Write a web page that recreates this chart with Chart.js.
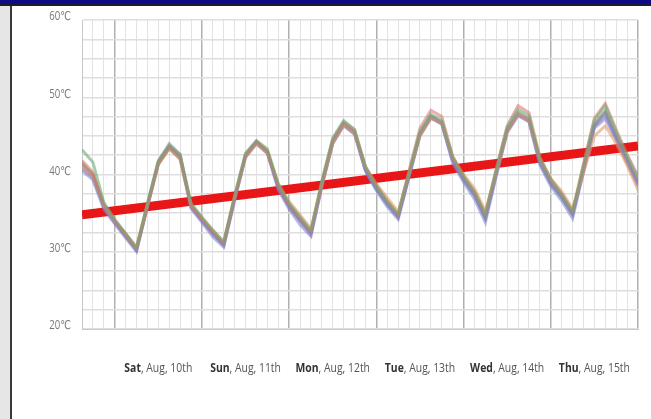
<!DOCTYPE html>
<html><head><meta charset="utf-8">
<script src="https://cdn.jsdelivr.net/npm/chart.js@4"></script>
<style>
html,body{margin:0;padding:0;background:#fff;overflow:hidden}
#wrap{position:relative;width:651px;height:419px;background:#fff}
#c{position:absolute;left:0;top:0}
#hdr{position:absolute;left:0;top:0;width:651px;height:4px;background:#0c0c86}
#hdrline{position:absolute;left:0;top:4px;width:651px;height:2px;background:#1c1c2c}
#lstrip{position:absolute;left:0;top:6px;width:10px;height:413px;background:#e6e6e6}
#lline{position:absolute;left:10px;top:6px;width:2px;height:413px;background:#3a3a3a}
</style></head>
<body>
<div id="wrap">
<canvas id="c" width="651" height="419"></canvas>
<div id="hdr"></div><div id="hdrline"></div><div id="lstrip"></div><div id="lline"></div>
</div>
<script>
// hours relative to Sat, Aug 10 00:00 (3-hourly)
const hours = [-9,-6,-3,0,3,6,9,12,15,18,21,24,27,30,33,36,39,42,45,48,51,54,57,60,63,66,69,72,75,78,81,84,87,90,93,96,99,102,105,108,111,114,117,120,123,126,129,132,135,138,141,144];
const dayNames = ['Sat','Sun','Mon','Tue','Wed','Thu'];
const dayDates = [', Aug, 10th',', Aug, 11th',', Aug, 12th',', Aug, 13th',', Aug, 14th',', Aug, 15th'];
const dayCenters = [12,36,60,84,108,132];
const yTickLabels = [20,30,40,50,60];

const seriesGreen = [43.2,41.6,36.4,34.2,32.4,30.6,36.3,41.8,43.8,42.6,36.3,34.5,32.8,31.3,37.3,42.8,44.4,43.3,38.8,36.3,34.5,32.8,39.2,44.7,47,45.8,41,38.5,36.5,34.9,40.3,45.6,47.8,47,42.2,39.7,37.7,34.8,40.6,46.1,48.4,47.6,42,39.3,37.4,35.2,41.2,47,48.9,45.5,42.4,39.6];
const seriesRed = [41.8,40.3,36.2,34.1,32.3,30.5,36.1,41.6,43.7,42.4,36.1,34.3,32.6,31.1,37.1,42.6,44.3,43.1,38.6,36.1,34.3,32.6,39,44.6,46.8,45.8,41,38.6,36.6,34.8,40.5,46,48.3,47.5,42.4,39.8,37.8,34.9,40.8,46.3,48.9,48,42.3,39.4,37.5,35.2,41.4,47.3,49.2,45.8,42.6,39.8];
const seriesOrange = [41,39.8,36,34,32.3,30.5,36,41.3,43.3,42,36,34.3,32.8,31.3,37,42.3,44,42.8,38.8,36.5,34.8,33,38.7,44,46.4,45.3,41,38.8,37,35.2,40.2,45,47.3,46.6,42.2,40,38.2,35.3,40.2,45.5,47.8,47,42,39.5,37.8,35.6,40.2,45,46.3,44,41.2,38];
const seriesPurple = [40.8,39.6,35.8,33.8,32,30.2,36,41.7,44,42.6,35.8,34,32.3,30.8,36.8,42.5,44.3,42.9,38.3,35.8,34,32.2,38.6,44.2,46.5,45.4,40.6,38.2,36.2,34.4,39.9,45.2,47.4,46.6,41.8,39.3,37.3,34.2,40,45.6,47.7,46.9,41.5,38.8,37,34.8,40.5,46,47.2,44.5,41.6,38.8];
const seriesBlue = [40.5,39.3,35.5,33.6,31.8,30,35.8,41.3,43.4,42,35.6,33.8,31.9,30.6,36.6,42.2,44,42.7,38,35.5,33.5,32,38.4,44,46.3,45.2,40.4,37.9,35.8,34.2,39.7,45,47.3,46.5,41.5,39,36.8,33.8,39.8,45.4,47.6,46.8,41.2,38.5,36.6,34.3,40.3,46.2,47.6,44.6,41.5,38.5];
const seriesGrayA = [41.5,40,36,34,32.2,30.3,36,41.5,43.6,42.3,36,34.2,32.5,31,37,42.5,44.2,43,38.5,36,34.2,32.5,38.8,44.3,46.6,45.5,40.8,38.3,36.3,34.6,40,45.3,47.6,46.8,42,39.5,37.5,34.5,40.3,45.8,48,47.2,41.8,39,37.2,35,40.8,46.5,48.2,45,42,39];
const seriesGrayB = [41.2,39.8,35.8,33.8,32,30.2,35.8,41.3,43.4,42.1,35.8,34,32.3,30.9,36.8,42.3,44,42.8,38.3,35.8,34,32.4,38.6,44.1,46.4,45.3,40.6,38.1,36.1,34.5,39.8,45.1,47.4,46.6,41.8,39.3,37.3,34.4,40.1,45.6,47.8,47,41.6,38.8,37,34.8,40.6,46.3,48,44.8,41.8,38.8];
const trendHours = [-9,144];
const trendValues = [34.8,43.7];

const FONT = "'Open Sans','DejaVu Sans',sans-serif";
const CONDENSE = 0.8;
function pts(vals, xs){ return vals.map((v,i)=>({x:xs[i], y:v})); }
function line(vals, color){
  return {data: pts(vals, hours), borderColor: color, borderWidth: 3, pointRadius: 0, tension: 0, fill: false};
}

const textPlugin = {
  id: 'condensedText',
  afterDraw(chart){
    const ctx = chart.ctx, xs = chart.scales.x, ys = chart.scales.y;
    ctx.save();
    ctx.textBaseline = 'middle';
    // day labels
    for (let i=0;i<dayNames.length;i++){
      const cx = xs.getPixelForValue(dayCenters[i]);
      ctx.font = 'bold 13px ' + FONT;
      const w1 = ctx.measureText(dayNames[i]).width;
      ctx.font = '13px ' + FONT;
      const w2 = ctx.measureText(dayDates[i]).width;
      ctx.save();
      ctx.translate(cx - (w1+w2)*CONDENSE/2, 368);
      ctx.scale(CONDENSE, 1);
      ctx.textAlign = 'left';
      ctx.fillStyle = '#333';
      ctx.font = 'bold 13px ' + FONT;
      ctx.fillText(dayNames[i], 0, 0);
      ctx.fillStyle = '#555';
      ctx.font = '13px ' + FONT;
      ctx.fillText(dayDates[i], w1, 0);
      ctx.restore();
    }
    // y labels
    ctx.font = '12px ' + FONT;
    ctx.fillStyle = '#777';
    ctx.textAlign = 'right';
    for (const v of yTickLabels){
      const y = ys.getPixelForValue(v) - 3;
      ctx.save();
      ctx.translate(71, y);
      ctx.scale(CONDENSE, 1);
      ctx.fillText(v + '℃', 0, 0);
      ctx.restore();
    }
    ctx.restore();
  }
};

new Chart(document.getElementById('c'), {
  type: 'line',
  data: {
    datasets: [
      line(seriesGreen, 'rgba(110,170,115,0.6)'),
      line(seriesRed, 'rgba(215,110,100,0.55)'),
      line(seriesOrange, 'rgba(220,150,90,0.55)'),
      line(seriesPurple, 'rgba(150,120,205,0.55)'),
      line(seriesBlue, 'rgba(115,135,205,0.55)'),
      line(seriesGrayA, 'rgba(125,125,125,0.6)'),
      line(seriesGrayB, 'rgba(145,145,145,0.6)'),
      {data: pts(trendValues, trendHours), borderColor: 'rgb(232,22,22)', borderWidth: 9, pointRadius: 0, tension: 0, fill: false}
    ]
  },
  options: {
    responsive: false,
    animation: false,
    devicePixelRatio: 1,
    layout: {padding: {left: 0, right: 13, top: 20, bottom: 0}},
    plugins: {legend: {display: false}, tooltip: {enabled: false}, title: {display: false}},
    scales: {
      x: {
        type: 'linear', min: -9, max: 144,
        ticks: {display: false, stepSize: 3},
        grid: {
          drawTicks: false,
          color: c => (c.tick && c.tick.value % 24 === 0) ? '#b0b0b0' : '#e2e2e2',
          lineWidth: c => (c.tick && c.tick.value % 24 === 0) ? 1.5 : 1
        },
        border: {display: true, color: '#c8c8c8'},
        afterFit: s => { s.height = 90; }
      },
      y: {
        min: 20, max: 60,
        ticks: {display: false, stepSize: 2.5},
        grid: {drawTicks: false, color: '#dedede', lineWidth: 1.5},
        border: {display: true, color: '#c8c8c8'},
        afterFit: s => { s.width = 82; }
      }
    }
  },
  plugins: [textPlugin]
});
</script>
</body></html>
